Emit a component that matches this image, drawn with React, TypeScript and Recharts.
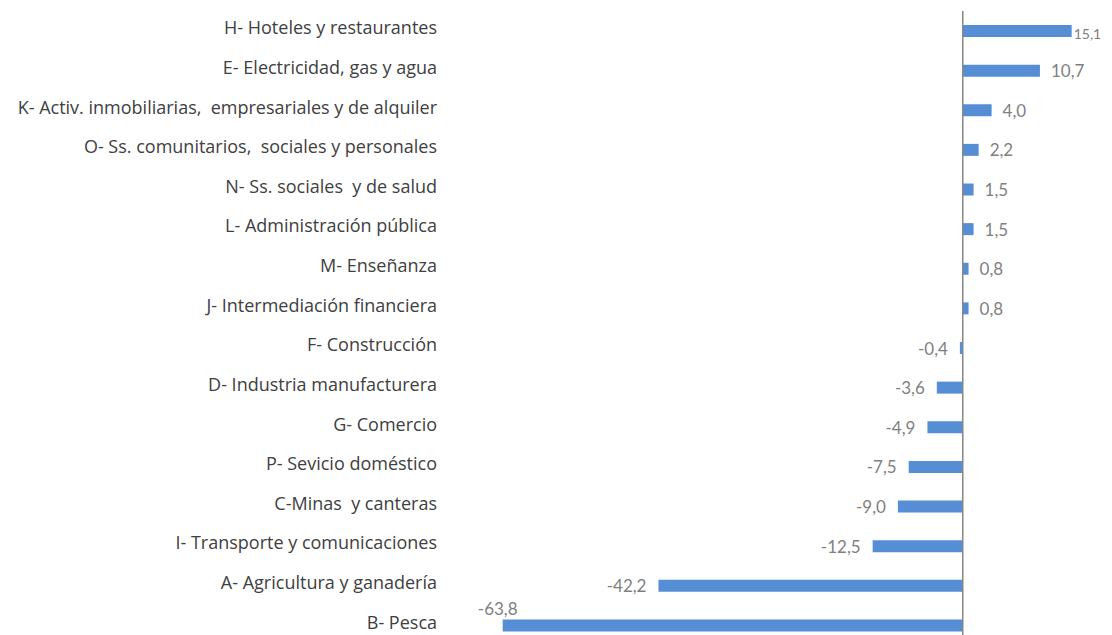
import React from 'react';
import { BarChart, Bar, XAxis, YAxis, ReferenceLine, LabelList } from 'recharts';

const sectors = [
  'H- Hoteles y restaurantes',
  'E- Electricidad, gas y agua',
  'K- Activ. inmobiliarias,  empresariales y de alquiler',
  'O- Ss. comunitarios,  sociales y personales',
  'N- Ss. sociales  y de salud',
  'L- Administración pública',
  'M- Enseñanza',
  'J- Intermediación financiera',
  'F- Construcción',
  'D- Industria manufacturera',
  'G- Comercio',
  'P- Sevicio doméstico',
  'C-Minas  y canteras',
  'I- Transporte y comunicaciones',
  'A- Agricultura y ganadería',
  'B- Pesca',
];
const variation = [15.1, 10.7, 4.0, 2.2, 1.5, 1.5, 0.8, 0.8, -0.4, -3.6, -4.9, -7.5, -9.0, -12.5, -42.2, -63.8];

const data = sectors.map((name, i) => ({ name, value: variation[i] }));

const fmt = (v: number) => v.toFixed(1).replace('.', ',');
const FONT = 'Lato, Calibri, sans-serif';
const CAT_FONT = '"Open Sans", Calibri, sans-serif';

const ValueLabel = (props: any) => {
  const { x, y, width, height, value, index } = props;
  const left = Math.min(x, x + width);
  const right = Math.max(x, x + width);
  const cy = y + height / 2;
  // longest bar: label sits above its start
  if (index === data.length - 1) {
    return (
      <text x={left - 5} y={cy - 17} textAnchor="middle" dominantBaseline="central" fontSize={17} fill="#7f7f7f" fontFamily={FONT}>
        {fmt(value)}
      </text>
    );
  }
  if (index === 0) {
    return (
      <text x={right + 2} y={cy + 2} textAnchor="start" dominantBaseline="central" fontSize={14} fill="#7f7f7f" fontFamily={FONT}>
        {fmt(value)}
      </text>
    );
  }
  if (value >= 0) {
    return (
      <text x={right + 11} y={cy} textAnchor="start" dominantBaseline="central" fontSize={17} fill="#7f7f7f" fontFamily={FONT}>
        {fmt(value)}
      </text>
    );
  }
  return (
    <text x={left - 12} y={cy} textAnchor="end" dominantBaseline="central" fontSize={17} fill="#7f7f7f" fontFamily={FONT}>
      {fmt(value)}
    </text>
  );
};

const SectorTick = (props: any) => {
  const { x, y, payload } = props;
  return (
    <text x={x} y={y - 3.5} textAnchor="end" dominantBaseline="central" fontSize={18} fill="#404040" fontFamily={CAT_FONT} style={{ whiteSpace: 'pre' }}>
      {payload.value}
    </text>
  );
};

export default function App() {
  return (
    <div style={{ position: 'absolute', left: 0, top: 0, width: 1112, height: 635, overflow: 'hidden', background: '#fff' }}>
      <BarChart
        width={1112}
        height={646}
        data={data}
        layout="vertical"
        margin={{ top: 11, right: 5, bottom: 1, left: 0 }}
      >
        <XAxis type="number" domain={[-70, 20]} hide />
        <YAxis
          type="category"
          dataKey="name"
          width={458}
          axisLine={false}
          tickLine={false}
          tickSize={0}
          tickMargin={21}
          interval={0}
          tick={<SectorTick />}
        />
        <Bar dataKey="value" fill="#558ED5" barSize={12} isAnimationActive={false}>
          <LabelList dataKey="value" content={<ValueLabel />} />
        </Bar>
        <ReferenceLine x={0} stroke="#868686" strokeWidth={1.5} />
      </BarChart>
    </div>
  );
}
